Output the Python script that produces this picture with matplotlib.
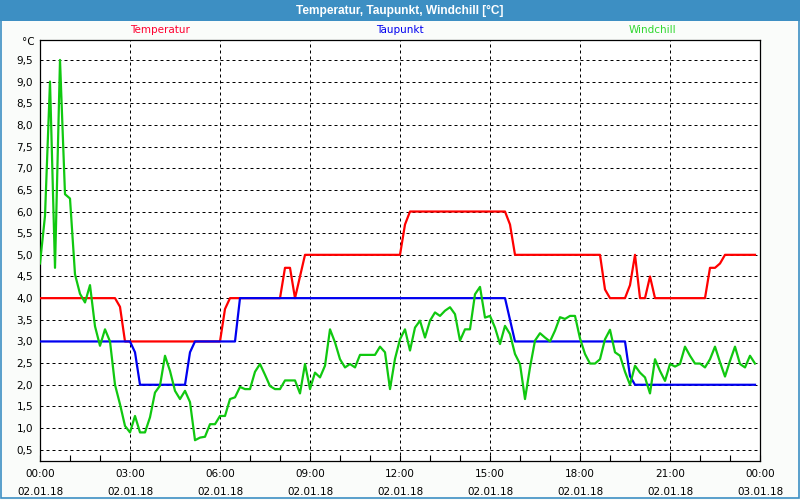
import numpy as np
import matplotlib
matplotlib.use('Agg')
import matplotlib.pyplot as plt
from matplotlib.patches import Rectangle
from matplotlib.ticker import MultipleLocator, FuncFormatter

# Temperatur / Taupunkt als Stuetzstellen (Uhrzeit, Wert)
temp_time = ['00:00', '02:30', '02:40', '02:50', '06:00', '06:10', '06:20', '08:00', '08:10', '08:20',
             '08:30', '08:40', '08:50', '12:00', '12:10', '12:20', '15:30', '15:40', '15:50', '18:40',
             '18:50', '19:00', '19:30', '19:40', '19:50', '20:00', '20:10', '20:20', '20:30', '22:10',
             '22:20', '22:30', '22:40', '22:50', '23:50']
temp_val = [4.0, 4.0, 3.8, 3.0, 3.0, 3.75, 4.0, 4.0, 4.7, 4.7,
            4.0, 4.5, 5.0, 5.0, 5.7, 6.0, 6.0, 5.7, 5.0, 5.0,
            4.2, 4.0, 4.0, 4.3, 5.0, 4.0, 4.0, 4.5, 4.0, 4.0,
            4.7, 4.7, 4.8, 5.0, 5.0]

dew_time = ['00:00', '03:00', '03:10', '03:20', '04:50', '05:00', '05:10', '06:30', '06:40', '15:30',
            '15:40', '15:50', '19:30', '19:40', '19:50', '23:50']
dew_val = [3.0, 3.0, 2.75, 2.0, 2.0, 2.75, 3.0, 3.0, 4.0, 4.0,
           3.5, 3.0, 3.0, 2.2, 2.0, 2.0]

# Windchill alle 10 Minuten ab 00:00
wc_val = [4.8, 5.9, 9.0, 4.7, 9.5, 6.4, 6.3, 4.55, 4.1, 3.9,
          4.3, 3.35, 2.9, 3.28, 3.0, 2.0, 1.55, 1.05, 0.9, 1.28,
          0.9, 0.9, 1.25, 1.82, 1.98, 2.67, 2.32, 1.86, 1.67, 1.86,
          1.6, 0.72, 0.78, 0.8, 1.09, 1.09, 1.28, 1.28, 1.67, 1.71,
          1.95, 1.9, 1.9, 2.3, 2.48, 2.23, 1.97, 1.9, 1.9, 2.1,
          2.1, 2.1, 1.8, 2.48, 1.9, 2.28, 2.17, 2.44, 3.28, 2.98,
          2.59, 2.4, 2.48, 2.4, 2.69, 2.69, 2.69, 2.69, 2.88, 2.75,
          1.9, 2.6, 3.05, 3.28, 2.79, 3.32, 3.48, 3.09, 3.48, 3.67,
          3.59, 3.71, 3.79, 3.63, 3.02, 3.28, 3.28, 4.09, 4.26, 3.55,
          3.59, 3.32, 2.94, 3.36, 3.17, 2.71, 2.48, 1.67, 2.4, 3.02,
          3.19, 3.09, 3.0, 3.25, 3.56, 3.52, 3.59, 3.59, 3.07, 2.71,
          2.49, 2.49, 2.59, 3.05, 3.27, 2.75, 2.67, 2.3, 2.0, 2.44,
          2.28, 2.17, 1.8, 2.59, 2.32, 2.09, 2.48, 2.42, 2.48, 2.88,
          2.67, 2.49, 2.49, 2.4, 2.59, 2.88, 2.52, 2.19, 2.55, 2.88,
          2.48, 2.4, 2.67, 2.49]
wc_step_min = 10

x_ticks = ['00:00\n02.01.18', '03:00\n02.01.18', '06:00\n02.01.18', '09:00\n02.01.18', '12:00\n02.01.18',
           '15:00\n02.01.18', '18:00\n02.01.18', '21:00\n02.01.18', '00:00\n03.01.18']
series = ['Temperatur', 'Taupunkt', 'Windchill']
title = 'Temperatur, Taupunkt, Windchill [°C]'


def to_hours(times):
    return [int(t[:2]) + int(t[3:]) / 60 for t in times]


red = '#ff0000'
blue = '#0000f0'
green = '#10c810'

fig = plt.figure(figsize=(8, 5), dpi=100)
fig.patch.set_facecolor('#fafcfa')

# Titelleiste und Fensterrahmen
fig.add_artist(Rectangle((0, 1 - 21 / 500), 1, 21 / 500, transform=fig.transFigure,
                         facecolor='#3d8fc3', edgecolor='none'))
fig.add_artist(Rectangle((0.5 / 800, 2.5 / 500), 798.5 / 800, 497 / 500, transform=fig.transFigure,
                         facecolor='none', edgecolor='#3d8fc3', linewidth=1.2))
fig.text(0.5, 1 - 10.5 / 500, title, color='white', fontsize=8.6, fontweight='bold',
         family=['Liberation Sans', 'DejaVu Sans'], ha='center', va='center')

ax = fig.add_axes([40 / 800, 1 - 461 / 500, 720 / 800, 421 / 500])
ax.set_facecolor('white')

ax.plot(to_hours(temp_time), temp_val, color=red, lw=1.6, zorder=3)
ax.plot(to_hours(dew_time), dew_val, color=blue, lw=1.6, zorder=3)
wc_hours = np.arange(len(wc_val)) * wc_step_min / 60
ax.plot(wc_hours, wc_val, color=green, lw=1.6, zorder=4)

ax.set_xlim(0, 24)
ax.set_ylim(0.24, 9.96)
ax.xaxis.set_major_locator(MultipleLocator(3))
ax.xaxis.set_minor_locator(MultipleLocator(1))
ax.set_xticks(np.arange(0, 25, 3))
ax.set_xticklabels(x_ticks, fontsize=7.5, linespacing=1.9)
ax.yaxis.set_major_locator(MultipleLocator(0.5))
ax.set_yticks(np.arange(0.5, 9.51, 0.5))
ax.yaxis.set_major_formatter(FuncFormatter(lambda v, p: ('%.1f' % v).replace('.', ',')))
ax.tick_params(axis='y', length=0, labelsize=7.5, pad=5)
ax.tick_params(axis='x', which='both', direction='in', length=4, width=0.8, pad=6, top=False)

ax.grid(True, which='major', color='black', linestyle=(0, (3, 3)), linewidth=0.72)
for s in ax.spines.values():
    s.set_color('black')
    s.set_linewidth(0.9)

# Legende als farbige Ueberschriften
ax.text(0.5 / 3, 1.012, series[0], color='#ff0030', fontsize=7.5, ha='center', va='bottom',
        transform=ax.transAxes)
ax.text(0.5, 1.012, series[1], color=blue, fontsize=7.5, ha='center', va='bottom',
        transform=ax.transAxes)
ax.text(0.85, 1.012, series[2], color='#30d830', fontsize=7.5, ha='center', va='bottom',
        transform=ax.transAxes)
ax.text(-0.007, 0.995, '°C', fontsize=7.5, ha='right', va='center', transform=ax.transAxes)

fig.savefig('out.png', dpi=100, facecolor=fig.get_facecolor())
